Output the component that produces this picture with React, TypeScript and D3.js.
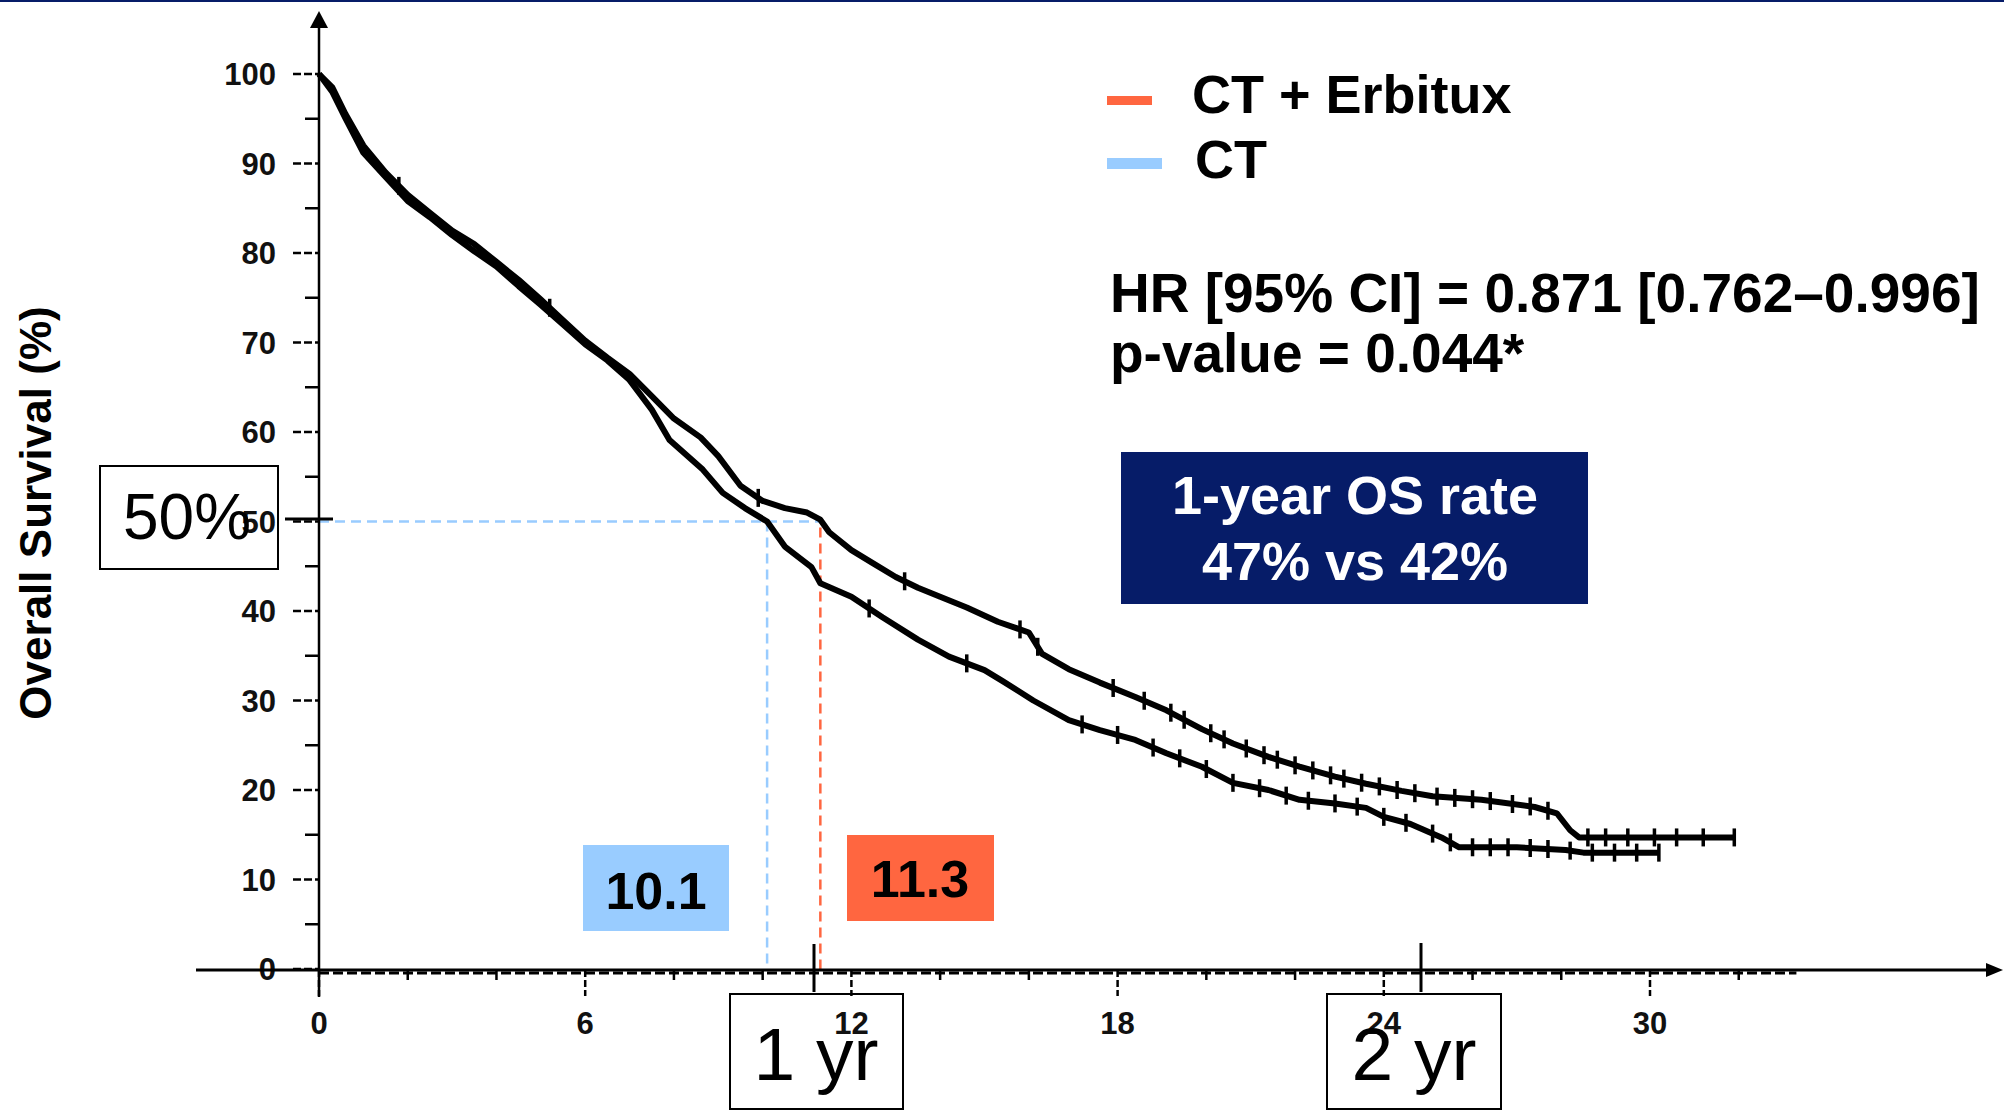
import React from 'react';
import * as d3 from 'd3';

// ---- data ----
const erbituxMonths = [0, 0.3, 0.6, 1.0, 1.5, 2.0, 2.5, 3.0, 3.5, 4.0, 4.5, 5.0, 5.5, 6.0, 6.5, 7.0, 7.5, 8.0, 8.6, 9.0, 9.5, 10.0, 10.5, 11.0, 11.3, 11.5, 12.0, 12.5, 13.0, 13.5, 14.0, 14.6, 15.3, 16.0, 16.3, 16.9, 17.6, 18.4, 19.1, 19.9, 20.6, 21.4, 22.1, 22.9, 23.6, 24.4, 25.1, 26.2, 27.4, 27.9, 28.2, 28.4, 31.9];
const erbituxSurvival = [100, 98.5, 95.5, 92, 89, 86.5, 84.5, 82.5, 81, 79, 77, 74.8, 72.5, 70.2, 68.3, 66.5, 64, 61.5, 59.4, 57.3, 54, 52.3, 51.5, 51, 50.2, 48.8, 46.8, 45.3, 43.8, 42.6, 41.6, 40.4, 38.8, 37.6, 35.2, 33.5, 32, 30.4, 28.9, 26.8, 25.2, 23.7, 22.6, 21.5, 20.7, 19.9, 19.3, 18.9, 18.1, 17.4, 15.5, 14.7, 14.7];

const ctMonths = [0, 0.3, 0.6, 1.0, 1.5, 2.0, 2.5, 3.0, 3.5, 4.0, 4.5, 5.0, 5.5, 6.0, 6.5, 7.0, 7.5, 7.9, 8.65, 9.1, 9.6, 10.1, 10.5, 11.1, 11.3, 12.0, 12.7, 13.5, 14.2, 15.0, 15.4, 16.1, 16.9, 17.6, 18.4, 19.1, 19.9, 20.6, 21.4, 22.1, 22.9, 23.6, 24.0, 24.6, 25.3, 25.7, 27.0, 28.1, 28.5, 30.2];
const ctSurvival = [100, 98, 95, 91.2, 88.5, 85.8, 84, 82, 80.2, 78.5, 76.3, 74.2, 72, 69.8, 68, 65.8, 62.5, 59.1, 55.8, 53.2, 51.5, 50, 47.2, 44.9, 43.1, 41.6, 39.3, 36.8, 34.9, 33.4, 32.2, 30, 27.8, 26.7, 25.6, 24.1, 22.6, 20.8, 20, 18.9, 18.5, 18, 17, 16.2, 14.7, 13.6, 13.6, 13.3, 13, 13];

const erbituxCensor = [1.8, 5.2, 9.9, 13.2, 15.8, 16.2, 17.9, 18.6, 19.2, 19.5, 20.1, 20.4, 20.9, 21.3, 21.6, 22.0, 22.4, 22.8, 23.1, 23.5, 23.9, 24.3, 24.7, 25.2, 25.6, 26.0, 26.4, 26.9, 27.3, 27.7, 28.6, 29.0, 29.5, 30.1, 30.6, 31.2, 31.9];
const ctCensor = [12.4, 14.6, 17.2, 18.0, 18.8, 19.4, 20.0, 20.6, 21.2, 21.8, 22.3, 22.9, 23.4, 24.0, 24.5, 25.1, 25.5, 26.0, 26.4, 26.8, 27.3, 27.7, 28.2, 28.7, 29.2, 29.7, 30.2];

const yMajorTicks = [0, 10, 20, 30, 40, 50, 60, 70, 80, 90, 100];
const yMinorTicks = [5, 15, 25, 35, 45, 55, 65, 75, 85, 95];
const xMajorTicks = [0, 6, 12, 18, 24, 30];
const xMinorTicks = [2, 4, 8, 10, 14, 16, 20, 22, 26, 28, 32];

const medianErbitux = 11.3;
const medianCT = 10.1;
const legendLabels = ['CT + Erbitux', 'CT'];
const hrText = 'HR [95% CI] = 0.871 [0.762\u20130.996]';
const pText = 'p-value = 0.044*';
const osLines = ['1-year OS rate', '47% vs 42%'];

const RED = '#FF6640';
const BLUE = '#99CCFF';
const NAVY = '#061C68';
const FONT = '"Liberation Sans", Arial, sans-serif';

export default function App() {
  const x = d3.scaleLinear().domain([0, 30]).range([319, 1650]);
  const y = d3.scaleLinear().domain([0, 100]).range([969, 74]);

  const line = d3
    .line<[number, number]>()
    .x((d) => x(d[0]))
    .y((d) => y(d[1]))
    .curve(d3.curveLinear);

  const erbData: [number, number][] = erbituxMonths.map((m, i) => [m, erbituxSurvival[i]]);
  const ctData: [number, number][] = ctMonths.map((m, i) => [m, ctSurvival[i]]);

  const interp = (months: number[], vals: number[], t: number) => {
    const i = d3.bisectRight(months, t);
    if (i <= 0) return vals[0];
    if (i >= months.length) return vals[vals.length - 1];
    const t0 = months[i - 1], t1 = months[i];
    const v0 = vals[i - 1], v1 = vals[i];
    return v0 + ((t - t0) / (t1 - t0)) * (v1 - v0);
  };

  const axisY = y(0) + 1;
  const axisX = x(0);

  return (
    <svg width={2004} height={1111} style={{ position: 'absolute', left: 0, top: 0, background: '#fff' }} fontFamily={FONT}>
      <rect x={0} y={0} width={2004} height={1111} fill="#fff" />
      <rect x={0} y={0} width={2004} height={2} fill={NAVY} />

      {/* Y axis label */}
      <text transform="translate(51,513) rotate(-90)" textAnchor="middle" fontSize={44} fontWeight="bold" fill="#000">
        Overall Survival (%)
      </text>

      {/* dashed guides */}
      <line x1={axisX} x2={x(medianErbitux)} y1={y(50)} y2={y(50)} stroke={BLUE} strokeWidth={2.5} strokeDasharray="10,6" />
      <line x1={x(medianCT)} x2={x(medianCT)} y1={y(50)} y2={y(0)} stroke={BLUE} strokeWidth={2.5} strokeDasharray="10,6" />
      <line x1={x(medianErbitux)} x2={x(medianErbitux)} y1={y(50) + 6} y2={y(0)} stroke={RED} strokeWidth={2.5} strokeDasharray="10,6" />

      {/* Y axis */}
      <line x1={axisX} x2={axisX} y1={24} y2={997} stroke="#000" strokeWidth={2.5} />
      <path d={`M${axisX},11 L${axisX - 9},28 L${axisX + 9},28 Z`} fill="#000" />
      {yMajorTicks.map((t) => (
        <g key={'ym' + t}>
          <line x1={axisX - 26} x2={axisX} y1={y(t)} y2={y(t)} stroke="#000" strokeWidth={2.5} strokeDasharray="8,3" />
          <text x={276} y={y(t) + 11} textAnchor="end" fontSize={31} fontWeight="bold" fill="#111">
            {t}
          </text>
        </g>
      ))}
      {yMinorTicks.map((t) => (
        <line key={'yn' + t} x1={axisX - 14} x2={axisX} y1={y(t)} y2={y(t)} stroke="#000" strokeWidth={2.5} />
      ))}

      {/* X axis */}
      <line x1={196} x2={1990} y1={axisY} y2={axisY} stroke="#000" strokeWidth={3} />
      <line x1={axisX} x2={x(33.3)} y1={axisY + 3} y2={axisY + 3} stroke="#000" strokeWidth={3} strokeDasharray="10,4" />
      <path d={`M2003,${axisY} L1986,${axisY - 7} L1986,${axisY + 7} Z`} fill="#000" />
      {xMajorTicks.map((t) => (
        <g key={'xm' + t}>
          <line x1={x(t)} x2={x(t)} y1={axisY} y2={axisY + 26} stroke="#000" strokeWidth={2.5} strokeDasharray="7,3" />
          <text x={x(t)} y={1034} textAnchor="middle" fontSize={31} fontWeight="bold" fill="#111">
            {t}
          </text>
        </g>
      ))}
      {xMinorTicks.map((t) => (
        <line key={'xn' + t} x1={x(t)} x2={x(t)} y1={axisY} y2={axisY + 10} stroke="#000" strokeWidth={2.5} />
      ))}

      {/* Curves */}
      <path d={line(ctData) || ''} fill="none" stroke="#000" strokeWidth={6} strokeLinejoin="round" />
      <path d={line(erbData) || ''} fill="none" stroke="#000" strokeWidth={6} strokeLinejoin="round" />
      {erbituxCensor.map((t, i) => {
        const v = interp(erbituxMonths, erbituxSurvival, t);
        return <line key={'ec' + i} x1={x(t)} x2={x(t)} y1={y(v) - 9} y2={y(v) + 9} stroke="#000" strokeWidth={3.5} />;
      })}
      {ctCensor.map((t, i) => {
        const v = interp(ctMonths, ctSurvival, t);
        return <line key={'cc' + i} x1={x(t)} x2={x(t)} y1={y(v) - 9} y2={y(v) + 9} stroke="#000" strokeWidth={3.5} />;
      })}

      {/* 50% annotation */}
      <rect x={100} y={466} width={178} height={103} fill="none" stroke="#000" strokeWidth={2} />
      <text x={123} y={539} fontSize={64} fill="#000">50%</text>
      <line x1={285} x2={333} y1={519} y2={519} stroke="#000" strokeWidth={3} />

      {/* year markers */}
      <line x1={814} x2={814} y1={944} y2={992} stroke="#000" strokeWidth={3} />
      <line x1={1421} x2={1421} y1={943} y2={992} stroke="#000" strokeWidth={3} />
      <rect x={730} y={994} width={173} height={115} fill="none" stroke="#000" strokeWidth={2} />
      <text x={816} y={1080} textAnchor="middle" fontSize={75} fill="#000">1 yr</text>
      <rect x={1327} y={994} width={174} height={115} fill="none" stroke="#000" strokeWidth={2} />
      <text x={1414} y={1080} textAnchor="middle" fontSize={75} fill="#000">2 yr</text>

      {/* median boxes */}
      <rect x={583} y={845} width={146} height={86} fill={BLUE} />
      <text x={656} y={909} textAnchor="middle" fontSize={52} fontWeight="bold" fill="#000">{medianCT.toFixed(1)}</text>
      <rect x={847} y={835} width={147} height={86} fill={RED} />
      <text x={920} y={897} textAnchor="middle" fontSize={52} fontWeight="bold" fill="#000">{medianErbitux.toFixed(1)}</text>

      {/* legend */}
      <rect x={1107} y={96} width={45} height={9} fill={RED} />
      <text x={1192} y={113} fontSize={54} fontWeight="bold" fill="#000">{legendLabels[0]}</text>
      <rect x={1107} y={158} width={55} height={11} fill={BLUE} />
      <text x={1195} y={178} fontSize={54} fontWeight="bold" fill="#000">{legendLabels[1]}</text>

      {/* stats */}
      <text x={1110} y={312} fontSize={55} fontWeight="bold" fill="#000">{hrText}</text>
      <text x={1110} y={372} fontSize={55} fontWeight="bold" fill="#000">{pText}</text>

      {/* OS box */}
      <rect x={1121} y={452} width={467} height={152} fill={NAVY} />
      <text x={1355} y={514} textAnchor="middle" fontSize={54} fontWeight="bold" fill="#fff">{osLines[0]}</text>
      <text x={1355} y={580} textAnchor="middle" fontSize={54} fontWeight="bold" fill="#fff">{osLines[1]}</text>
    </svg>
  );
}
